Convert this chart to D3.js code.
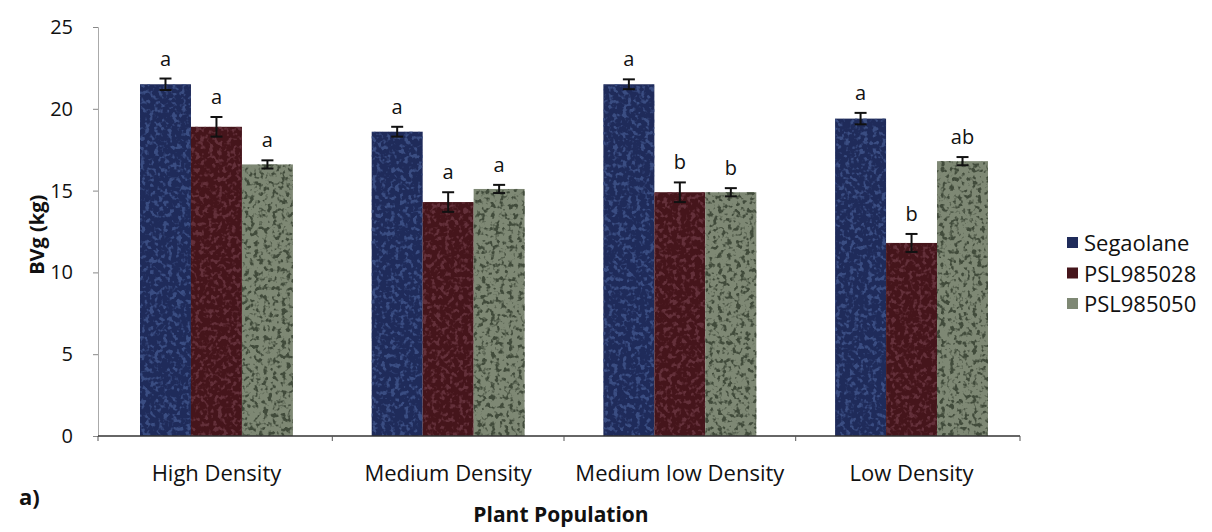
<!DOCTYPE html>
<html>
<head>
<meta charset="utf-8">
<script src="https://cdn.jsdelivr.net/npm/d3@7"></script>
<style>
  body { margin: 0; background: #fff; }
  text { font-family: "Open Sans", "Noto Sans", sans-serif; fill: #111; }
</style>
</head>
<body>
<svg id="chart" width="1212" height="532"></svg>
<script>
var categories = ["High Density", "Medium Density", "Medium low Density", "Low Density"]
var seriesNames = ["Segaolane", "PSL985028", "PSL985050"]
var segaolane = [21.5, 18.6, 21.5, 19.4]
var psl028 = [18.9, 14.3, 14.9, 11.8]
var psl050 = [16.6, 15.1, 14.9, 16.8]
var errSegaolane = [0.35, 0.3, 0.3, 0.35]
var err028 = [0.6, 0.6, 0.6, 0.55]
var err050 = [0.25, 0.25, 0.25, 0.25]
var lettersSegaolane = ["a", "a", "a", "a"]
var letters028 = ["a", "a", "b", "b"]
var letters050 = ["a", "a", "b", "ab"]
var yTicks = [0, 5, 10, 15, 20, 25]

var colors = ["#1f2b5a", "#45151b", "#7e8874"]
// mottled look of the scanned bars: spot colour per series
var spotColors = ["#3a4d82", "#63303a", "#414b3b"]

var svg = d3.select("#chart")
var axisLeft = 98, axisRight = 1020
var plotTop = 27, plotBottom = 436

var defs = svg.append("defs")
spotColors.forEach(function(c, i) {
  var rgb = d3.rgb(c)
  var f = defs.append("filter").attr("id", "mottle" + i)
    .attr("x", 0).attr("y", 0).attr("width", 1).attr("height", 1)
    .attr("color-interpolation-filters", "sRGB")
  f.append("feTurbulence").attr("type", "fractalNoise").attr("baseFrequency", 0.22)
    .attr("numOctaves", 2).attr("seed", i * 7 + 3).attr("result", "noise")
  f.append("feColorMatrix").attr("in", "noise").attr("type", "matrix")
    .attr("values", "0 0 0 0 " + (rgb.r / 255) + " 0 0 0 0 " + (rgb.g / 255) + " 0 0 0 0 " + (rgb.b / 255) + " 6 0 0 0 -3.05")
    .attr("result", "spots")
  f.append("feComposite").attr("in", "spots").attr("in2", "SourceGraphic").attr("operator", "in").attr("result", "clipped")
  var m = f.append("feMerge")
  m.append("feMergeNode").attr("in", "SourceGraphic")
  m.append("feMergeNode").attr("in", "clipped")
})

var values = [segaolane, psl028, psl050]
var errs = [errSegaolane, err028, err050]
var letters = [lettersSegaolane, letters028, letters050]

var rows = []
categories.forEach(function(c, i) {
  seriesNames.forEach(function(s, j) {
    rows.push({cat: c, series: s, si: j, value: values[j][i], err: errs[j][i], letter: letters[j][i]})
  })
})

var x0 = d3.scaleBand().domain(categories).range([140, 988]).paddingInner(0.34).paddingOuter(0)
var x1 = d3.scaleBand().domain(seriesNames).range([0, x0.bandwidth()])
var y = d3.scaleLinear().domain([0, 25]).range([plotBottom, plotTop])

// y axis
var yAxis = d3.axisLeft(y).tickValues(yTicks).tickSize(5).tickPadding(20)
var gy = svg.append("g").attr("transform", "translate(" + axisLeft + ",0)").call(yAxis)
gy.select(".domain").attr("stroke", "#aaa")
gy.selectAll(".tick line").attr("stroke", "#888")
gy.selectAll(".tick text").attr("font-size", "20px").attr("fill", "#222")

// bars
svg.append("g").selectAll("rect").data(rows).enter()
  .append("rect")
  .attr("x", function(d) { return x0(d.cat) + x1(d.series) })
  .attr("y", function(d) { return y(d.value) })
  .attr("width", x1.bandwidth())
  .attr("height", function(d) { return y(0) - y(d.value) })
  .attr("fill", function(d) { return colors[d.si] })
  .attr("filter", function(d) { return "url(#mottle" + d.si + ")" })

// error bars
var eb = svg.append("g").attr("stroke", "#111").attr("stroke-width", 2)
rows.forEach(function(d) {
  var cx = x0(d.cat) + x1(d.series) + x1.bandwidth() / 2
  eb.append("line").attr("x1", cx).attr("x2", cx).attr("y1", y(d.value - d.err)).attr("y2", y(d.value + d.err))
  eb.append("line").attr("x1", cx - 6).attr("x2", cx + 6).attr("y1", y(d.value + d.err)).attr("y2", y(d.value + d.err))
  eb.append("line").attr("x1", cx - 6).attr("x2", cx + 6).attr("y1", y(d.value - d.err)).attr("y2", y(d.value - d.err))
})

// significance letters
svg.append("g").selectAll("text").data(rows).enter()
  .append("text")
  .attr("x", function(d) { return x0(d.cat) + x1(d.series) + x1.bandwidth() / 2 })
  .attr("y", function(d) { return y(d.value + d.err) - 13 })
  .attr("text-anchor", "middle")
  .attr("font-size", "20px")
  .text(function(d) { return d.letter })

// x axis: ticks between the category groups
var gap = x0.step() * x0.paddingInner()
var xTickPos = [axisLeft].concat(categories.slice(1).map(function(c) { return x0(c) - gap / 2 })).concat([axisRight])
var gx = svg.append("g")
gx.append("line").attr("x1", axisLeft).attr("x2", axisRight).attr("y1", plotBottom).attr("y2", plotBottom)
  .attr("stroke", "#333").attr("stroke-width", 1.5)
gx.selectAll(".xt").data(xTickPos).enter()
  .append("line").attr("class", "xt")
  .attr("x1", function(d) { return d }).attr("x2", function(d) { return d })
  .attr("y1", plotBottom).attr("y2", plotBottom + 5)
  .attr("stroke", "#555")
gx.selectAll("text").data(categories).enter()
  .append("text")
  .attr("x", function(d) { return x0(d) + x0.bandwidth() / 2 })
  .attr("y", plotBottom + 45)
  .attr("text-anchor", "middle")
  .attr("font-size", "22px")
  .text(function(d) { return d })

// axis titles
svg.append("text").attr("x", 561).attr("y", 522)
  .attr("text-anchor", "middle").attr("font-size", "21px").attr("font-weight", "bold")
  .text("Plant Population")
svg.append("text").attr("transform", "translate(44," + y(12.3) + ") rotate(-90)")
  .attr("text-anchor", "middle").attr("font-size", "20px").attr("font-weight", "bold")
  .text("BVg (kg)")
svg.append("text").attr("x", 19).attr("y", 505).attr("font-size", "22px").attr("font-weight", "bold").text("a)")

// legend
var legend = svg.append("g").attr("transform", "translate(1067,243)")
var lg = legend.selectAll("g").data(seriesNames).enter()
  .append("g").attr("transform", function(d, i) { return "translate(0," + (i * 30.5) + ")" })
lg.append("rect").attr("x", 0).attr("y", -6).attr("width", 11).attr("height", 11)
  .attr("fill", function(d, i) { return colors[i] })
lg.append("text").attr("x", 17).attr("y", 8).attr("font-size", "22px").text(function(d) { return d })
</script>
</body>
</html>
